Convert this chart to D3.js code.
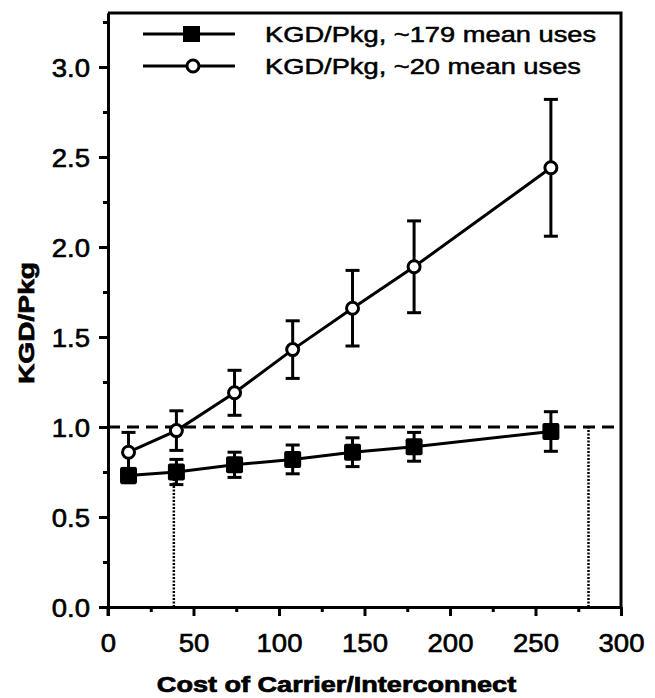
<!DOCTYPE html>
<html>
<head>
<meta charset="utf-8">
<script src="https://cdn.jsdelivr.net/npm/d3@7"></script>
<style>
  html, body { margin: 0; padding: 0; background: #fff; }
  svg { display: block; }
  text { font-family: "Liberation Sans", Arial, Helvetica, sans-serif; fill: #000; }
</style>
</head>
<body>
<svg id="chart" width="655" height="698"></svg>
<script>
// ---- data ----
const costs = [12, 40, 74, 108, 143, 179, 259];
const kgd179 = [0.73, 0.75, 0.79, 0.82, 0.86, 0.89, 0.975];
const kgd179Err = [0.04, 0.07, 0.07, 0.08, 0.08, 0.08, 0.11];
const kgd20 = [0.86, 0.98, 1.19, 1.43, 1.66, 1.89, 2.44];
const kgd20Err = [0.11, 0.11, 0.125, 0.16, 0.21, 0.255, 0.38];
const xTicks = [0, 50, 100, 150, 200, 250, 300];
const xMinor = [25, 75, 125, 175, 225, 275];
const yTicks = [0.0, 0.5, 1.0, 1.5, 2.0, 2.5, 3.0];
const yMinor = [0.25, 0.75, 1.25, 1.75, 2.25, 2.75, 3.25];
const refLevel = 1.0;
const breakEven = [38.5, 281];
const breakEvenTop = [0.72, 1.0];
const legendLabels = ["KGD/Pkg, ~179 mean uses", "KGD/Pkg, ~20 mean uses"];
const xTitle = "Cost of Carrier/Interconnect";
const yTitle = "KGD/Pkg";

// ---- layout ----
const svg = d3.select("#chart");
const x = d3.scaleLinear().domain([0, 300]).range([108, 621]);
const y = d3.scaleLinear().domain([0, 3.3]).range([607, 13]);
const AXW = 3;

// frame (top and right)
svg.append("path")
  .attr("d", `M${x(0)},${y(3.3)} H${x(300)} V${y(0)}`)
  .attr("fill", "none").attr("stroke", "#000").attr("stroke-width", AXW);

// axes
const gx = svg.append("g").attr("transform", `translate(0,${y(0)})`);
gx.call(d3.axisBottom(x).tickValues(xTicks).tickSize(9).tickSizeOuter(0).tickPadding(8).tickFormat(d3.format("d")));
const gxm = svg.append("g").attr("transform", `translate(0,${y(0)})`);
gxm.call(d3.axisBottom(x).tickValues(xMinor).tickSize(5).tickSizeOuter(0).tickFormat(""));
const gy = svg.append("g").attr("transform", `translate(${x(0)},0)`);
gy.call(d3.axisLeft(y).tickValues(yTicks).tickSize(9).tickSizeOuter(0).tickPadding(8).tickFormat(d3.format(".1f")));
const gym = svg.append("g").attr("transform", `translate(${x(0)},0)`);
gym.call(d3.axisLeft(y).tickValues(yMinor).tickSize(5).tickSizeOuter(0).tickFormat(""));

[gx, gxm, gy, gym].forEach(g => {
  g.selectAll("path.domain").attr("stroke", "#000").attr("stroke-width", AXW);
  g.selectAll(".tick line").attr("stroke", "#000").attr("stroke-width", AXW);
});
// y axis line extends a bit below x axis
svg.append("line").attr("x1", x(0)).attr("x2", x(0)).attr("y1", y(0)).attr("y2", y(0) + 9)
  .attr("stroke", "#000").attr("stroke-width", AXW);

gx.selectAll(".tick text")
  .attr("font-size", 25).attr("fill", "#000").attr("stroke", "#000").attr("stroke-width", 0.6)
  .attr("y", 0).attr("dy", 0)
  .attr("transform", "translate(0,45) scale(1.1,1)");
gy.selectAll(".tick text")
  .attr("font-size", 25).attr("fill", "#000").attr("stroke", "#000").attr("stroke-width", 0.6)
  .attr("x", 0).attr("dy", 0)
  .attr("transform", "translate(-18,9) scale(1.1,1)");

// axis titles
svg.append("text")
  .attr("transform", `translate(${(x(0) + x(300)) / 2 - 28},692) scale(1.23,1)`)
  .attr("text-anchor", "middle").attr("font-size", 22).attr("font-weight", "bold")
  .attr("stroke", "#000").attr("stroke-width", 0.7)
  .text(xTitle);
svg.append("text")
  .attr("transform", `translate(34,323) rotate(-90) scale(1.28,1)`)
  .attr("text-anchor", "middle").attr("font-size", 22).attr("font-weight", "bold")
  .attr("stroke", "#000").attr("stroke-width", 0.7)
  .text(yTitle);

// reference dashed line
svg.append("line")
  .attr("x1", x(0)).attr("x2", x(300)).attr("y1", y(refLevel)).attr("y2", y(refLevel))
  .attr("stroke", "#000").attr("stroke-width", 3).attr("stroke-dasharray", "12,7");

// dotted break-even lines
svg.selectAll("line.dot").data(breakEven).enter().append("line")
  .attr("class", "dot")
  .attr("x1", d => x(d)).attr("x2", d => x(d))
  .attr("y1", y(0)).attr("y2", (d, i) => y(breakEvenTop[i]))
  .attr("stroke", "#000").attr("stroke-width", 2.5).attr("stroke-dasharray", "2,1.5");

// series
const s179 = costs.map((c, i) => ({ x: c, y: kgd179[i], e: kgd179Err[i] }));
const s20 = costs.map((c, i) => ({ x: c, y: kgd20[i], e: kgd20Err[i] }));
const line = d3.line().x(d => x(d.x)).y(d => y(d.y));

function drawSeries(data, kind) {
  const g = svg.append("g");
  g.append("path").attr("d", line(data)).attr("fill", "none").attr("stroke", "#000").attr("stroke-width", 3);
  const eb = g.selectAll("g.eb").data(data).enter().append("g");
  eb.append("line")
    .attr("x1", d => x(d.x)).attr("x2", d => x(d.x))
    .attr("y1", d => y(d.y - d.e)).attr("y2", d => y(d.y + d.e))
    .attr("stroke", "#000").attr("stroke-width", 3);
  [1, -1].forEach(s => {
    eb.append("line")
      .attr("x1", d => x(d.x) - 7).attr("x2", d => x(d.x) + 7)
      .attr("y1", d => y(d.y + s * d.e)).attr("y2", d => y(d.y + s * d.e))
      .attr("stroke", "#000").attr("stroke-width", 3);
  });
  if (kind === "square") {
    g.selectAll("rect").data(data).enter().append("rect")
      .attr("x", d => x(d.x) - 8.5).attr("y", d => y(d.y) - 8.5)
      .attr("width", 17).attr("height", 17).attr("rx", 2).attr("fill", "#000");
  } else {
    g.selectAll("circle").data(data).enter().append("circle")
      .attr("cx", d => x(d.x)).attr("cy", d => y(d.y)).attr("r", 6)
      .attr("fill", "#fff").attr("stroke", "#000").attr("stroke-width", 3);
  }
}
drawSeries(s179, "square");
drawSeries(s20, "circle");

// legend
const lg = svg.append("g");
const legendY = [34, 66];
legendY.forEach((ly, i) => {
  lg.append("line").attr("x1", 143).attr("x2", 235).attr("y1", ly).attr("y2", ly)
    .attr("stroke", "#000").attr("stroke-width", 3);
  if (i === 0) {
    lg.append("rect").attr("x", 183).attr("y", ly - 8).attr("width", 17).attr("height", 16).attr("fill", "#000");
  } else {
    lg.append("circle").attr("cx", 193).attr("cy", ly).attr("r", 6)
      .attr("fill", "#fff").attr("stroke", "#000").attr("stroke-width", 3);
  }
  lg.append("text")
    .attr("transform", `translate(265,${ly + 8}) scale(1.24,1)`)
    .attr("font-size", 22).attr("stroke", "#000").attr("stroke-width", 0.5)
    .text(legendLabels[i]);
});
</script>
</body>
</html>
